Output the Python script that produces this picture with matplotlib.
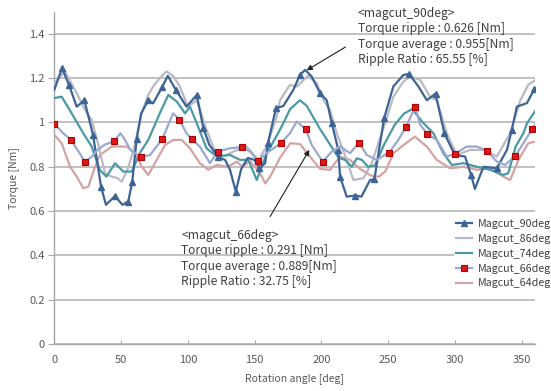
import matplotlib
matplotlib.use("Agg")
import matplotlib.pyplot as plt

# Torque vs rotation angle for the magnet-cut variants
angle_90 = [0, 5.8, 11, 16.8, 22.5, 29, 35, 38.7, 45.5, 51, 55.4, 58.4, 61.7, 65, 70.4, 74,
            81, 85, 91, 99, 106.7, 111.6, 116, 122.4, 128, 131.6, 135.9, 140, 145, 150,
            153.6, 157.9, 160, 166, 171.5, 179, 184, 187.8, 192.8, 199, 204, 207.8, 212.7,
            214, 219, 225.2, 230, 236.5, 239.7, 247, 253.9, 261.4, 265.7, 272.7, 279, 285.5,
            292.1, 300, 307.6, 312.1, 315, 321.4, 331.4, 339, 342.6, 346.4, 353.9, 359.5]
torque_90 = [1.147, 1.245, 1.169, 1.071, 1.10, 0.944, 0.71, 0.628, 0.668, 0.628, 0.643, 0.733,
             0.925, 1.04, 1.10, 1.086, 1.162, 1.21, 1.147, 1.071, 1.124, 0.974, 0.90, 0.846,
             0.83, 0.786, 0.688, 0.79, 0.84, 0.83, 0.793, 0.816, 0.906, 1.064, 1.074, 1.147,
             1.214, 1.237, 1.207, 1.132, 1.10, 0.996, 0.876, 0.755, 0.665, 0.67, 0.665, 0.74,
             0.743, 1.019, 1.162, 1.214, 1.219, 1.162, 1.10, 1.13, 0.951, 0.853, 0.846, 0.763,
             0.70, 0.80, 0.793, 0.876, 0.966, 1.071, 1.087, 1.15]
marks_90 = [5.8, 11, 22.5, 29, 35, 45.5, 55.4, 58.4, 61.7, 70.4, 81, 91, 106.7, 111.6, 122.4,
            135.9, 153.6, 160, 166, 184, 199, 207.8, 212.7, 214, 225.2, 239.7, 247, 265.7,
            285.5, 292.1, 312.1, 331.4, 342.6, 359.5]

angle_86 = [0, 8, 16.8, 23, 28, 33, 38, 43, 47, 50.5, 55, 59, 65.5, 70, 74, 79, 84, 89, 94,
            100, 106.7, 114, 121.6, 128, 134, 144, 152.8, 159, 166.6, 169, 176.5, 181.6, 190,
            196.5, 201.5, 206.5, 211.5, 219, 224, 231.5, 237.7, 247.7, 254, 261.4, 266.4, 274,
            281.4, 286.4, 293.9, 301.4, 311.4, 321.4, 331.4, 341.4, 349, 355, 360]
torque_86 = [1.177, 1.23, 1.132, 1.056, 1.011, 0.90, 0.77, 0.755, 0.75, 0.733, 0.79, 0.868,
             1.041, 1.12, 1.162, 1.20, 1.23, 1.21, 1.162, 1.071, 1.10, 0.966, 0.85, 0.85, 0.868,
             0.891, 0.831, 0.891, 1.026, 1.10, 1.169, 1.162, 1.21, 1.177, 1.10, 1.056, 0.951,
             0.831, 0.74, 0.748, 0.816, 0.996, 1.116, 1.184, 1.207, 1.192, 1.116, 1.10, 0.951,
             0.853, 0.876, 0.876, 0.846, 0.951, 1.10, 1.17, 1.19]

angle_74 = [0, 5.5, 13, 21.7, 28, 34, 39, 45.5, 51.7, 58, 64, 70.4, 79, 85.4, 91.7, 97.9, 101.6,
            106.7, 114, 121.6, 131.6, 139, 145.3, 151.6, 159, 166.6, 171, 176.6, 184, 189, 199,
            206.5, 213, 217.7, 222.8, 226.5, 230.3, 235, 240, 247, 255, 262, 268, 276, 284,
            291.4, 297.7, 306.4, 316.4, 326.4, 336.3, 340, 345.5, 351.3, 354, 360]
torque_74 = [1.11, 1.116, 1.041, 0.951, 0.891, 0.786, 0.755, 0.816, 0.778, 0.778, 0.861, 0.921,
             1.041, 1.124, 1.094, 1.041, 1.071, 0.996, 0.883, 0.846, 0.853, 0.831, 0.831, 0.74,
             0.86, 0.94, 0.99, 1.06, 1.10, 1.075, 0.97, 0.90, 0.84, 0.831, 0.80, 0.838, 0.831,
             0.80, 0.805, 0.90, 0.99, 1.04, 1.06, 1.00, 0.95, 0.861, 0.808, 0.816, 0.80, 0.786,
             0.763, 0.771, 0.891, 0.951, 0.996, 1.05]

angle_66 = [0, 6.7, 12.5, 19, 22.8, 28, 33, 38, 45, 49.5, 53, 57, 64.7, 71.7, 80.9, 89, 93.6,
            99, 102.9, 109, 116.6, 122.4, 131.6, 140.4, 146.6, 152.3, 159, 169.6, 176.5, 181.6,
            188.3, 192.8, 201, 207.8, 214, 221.5, 228.2, 234, 241.5, 250.7, 257.7, 263.5, 270.2,
            274, 279.4, 286.4, 293.9, 299.9, 308.9, 316.4, 323.9, 331.4, 337.6, 345.3, 351.3,
            358, 360]
torque_66 = [0.993, 0.951, 0.921, 0.861, 0.822, 0.845, 0.88, 0.90, 0.916, 0.951, 0.92, 0.876,
             0.844, 0.853, 0.925, 1.041, 1.013, 0.951, 0.925, 0.891, 0.816, 0.868, 0.883, 0.889,
             0.868, 0.826, 0.861, 0.906, 0.951, 1.004, 0.969, 0.898, 0.823, 0.868, 0.891, 0.861,
             0.909, 0.853, 0.831, 0.864, 0.921, 0.981, 1.07, 0.99, 0.947, 0.921, 0.846, 0.858,
             0.891, 0.891, 0.873, 0.823, 0.808, 0.849, 0.906, 0.971, 0.99]
marks_66 = [0, 12.5, 22.8, 45, 64.7, 80.9, 93.6, 102.9, 122.4, 140.4, 152.3, 169.6, 188.3, 201,
            228.2, 250.7, 263.5, 270.2, 279.4, 299.9, 323.9, 345.3, 358]

angle_64 = [0, 5.5, 11.8, 16.8, 21.7, 25.5, 30.5, 34.2, 43, 54.2, 60.4, 65.5, 70.4, 76.7, 82.9,
            89.1, 95.4, 101.6, 109, 115.4, 121.6, 130.3, 136.6, 141, 146.6, 150.3, 155, 158,
            161.6, 169.6, 176.8, 184, 191.5, 199, 206.5, 214, 221.5, 229, 237, 243, 248, 254,
            262, 270, 279, 286.4, 296.4, 306.4, 316.4, 326.4, 336.3, 341.4, 347.6, 355, 360]
torque_64 = [0.944, 0.906, 0.80, 0.755, 0.703, 0.71, 0.80, 0.853, 0.891, 0.891, 0.861, 0.80,
             0.763, 0.831, 0.898, 0.921, 0.921, 0.883, 0.816, 0.786, 0.808, 0.80, 0.823, 0.80,
             0.825, 0.80, 0.76, 0.725, 0.755, 0.846, 0.906, 0.902, 0.846, 0.79, 0.786, 0.846,
             0.831, 0.79, 0.76, 0.755, 0.78, 0.861, 0.90, 0.936, 0.891, 0.831, 0.793, 0.80,
             0.786, 0.793, 0.755, 0.740, 0.831, 0.906, 0.913]

text_90 = ["<magcut_90deg>", "Torque ripple : 0.626 [Nm]",
           "Torque average : 0.955[Nm]", "Ripple Ratio : 65.55 [%]"]
text_66 = ["<magcut_66deg>", "Torque ripple : 0.291 [Nm]",
           "Torque average : 0.889[Nm]", "Ripple Ratio : 32.75 [%]"]

TXT = "#404040"
TICK = "#595959"
GRID = "#b0b0b0"

plt.rcParams["font.family"] = ["Noto Sans CJK KR", "DejaVu Sans"]

fig = plt.figure(figsize=(5.51, 3.91), dpi=100)
ax = fig.add_axes([54.3 / 551, 1 - 344 / 391, (535 - 54.3) / 551, (344 - 11.6) / 391])

ax.plot(angle_64, torque_64, color="#d4a3a3", lw=1.6, label="Magcut_64deg", zorder=2)
ax.plot(angle_86, torque_86, color="#b9bac4", lw=1.6, label="Magcut_86deg", zorder=3)
ax.plot(angle_74, torque_74, color="#4a9aa6", lw=1.6, label="Magcut_74deg", zorder=4)
ax.plot(angle_90, torque_90, color="#3d6496", lw=1.6, marker="^", ms=5,
        markevery=[i for i, a in enumerate(angle_90) if a in marks_90],
        label="Magcut_90deg", zorder=5)
ax.plot(angle_66, torque_66, color="#9aa8d2", lw=1.6, marker="s", ms=4.3,
        mfc="#d91a1a", mec="#b00000", mew=0.8,
        markevery=[i for i, a in enumerate(angle_66) if a in marks_66],
        label="Magcut_66deg", zorder=6)

ax.set_xlim(0, 360)
ax.set_ylim(0, 1.5)
ax.set_xticks(range(0, 351, 50))
ax.set_yticks([0, 0.2, 0.4, 0.6, 0.8, 1.0, 1.2, 1.4])
ax.set_yticklabels(["0", "0.2", "0.4", "0.6", "0.8", "1", "1.2", "1.4"])
ax.grid(axis="y", color=GRID, lw=1.1)
ax.set_axisbelow(True)
for side in ["top", "right"]:
    ax.spines[side].set_visible(False)
for side in ["left", "bottom"]:
    ax.spines[side].set_color("#a8a8a8")
    ax.spines[side].set_linewidth(1.0)
ax.tick_params(axis="y", direction="out", length=4, color="#a8a8a8", labelcolor=TICK,
               labelsize=8, pad=3)
ax.tick_params(axis="x", direction="in", length=3, color="#a8a8a8", labelcolor=TICK,
               labelsize=8, pad=8)
ax.set_xlabel("Rotation angle [deg]", color=TICK, fontsize=7.5, labelpad=6)
ax.set_ylabel("Torque [Nm]", color=TICK, fontsize=7.5, labelpad=7)

handles, labels = ax.get_legend_handles_labels()
order = [labels.index(n) for n in ["Magcut_90deg", "Magcut_86deg", "Magcut_74deg",
                                   "Magcut_66deg", "Magcut_64deg"]]
leg = ax.legend([handles[i] for i in order], [labels[i] for i in order],
                loc="upper left", bbox_to_anchor=(454 / 551, 1 - 217 / 391),
                bbox_transform=fig.transFigure, fontsize=7.7, handlelength=1.45,
                handletextpad=0.55, labelspacing=0.45, borderpad=0.2, borderaxespad=0,
                frameon=True, fancybox=False, facecolor="white", edgecolor="none",
                framealpha=1)
for t in leg.get_texts():
    t.set_color(TXT)

fig.text(358 / 551, 1 - 7 / 391, "\n".join(text_90), ha="left", va="top",
         fontsize=8.7, color=TXT, linespacing=1.24)
fig.text(181 / 551, 1 - 229 / 391, "\n".join(text_66), ha="left", va="top",
         fontsize=8.7, color=TXT, linespacing=1.24)

arrow = dict(arrowstyle="-|>", color="#202020", lw=0.8, mutation_scale=8, shrinkA=0, shrinkB=0)
ax.annotate("", xy=(189, 1.235), xytext=(218, 1.34), arrowprops=arrow)
ax.annotate("", xy=(191, 0.876), xytext=(161.6, 0.575), arrowprops=arrow)

fig.savefig("out.png", dpi=100)
